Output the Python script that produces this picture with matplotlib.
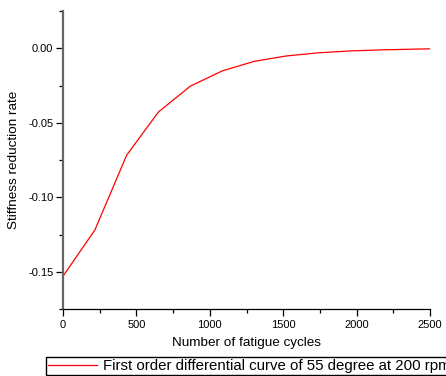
import matplotlib
matplotlib.use("Agg")
import matplotlib.pyplot as plt
from matplotlib.ticker import MultipleLocator

cycles = [0, 217, 434, 651, 868, 1085, 1302, 1519, 1736, 1953, 2170, 2387, 2500]
rate = [-0.153, -0.122, -0.0717, -0.0427, -0.0254, -0.0152, -0.0088,
        -0.0052, -0.0031, -0.0018, -0.0011, -0.0006, -0.0004]

plt.rcParams['font.family'] = ['Liberation Sans', 'DejaVu Sans']

fig = plt.figure(figsize=(4.46, 3.76), dpi=100)
ax = fig.add_axes([63/446, 67/376, 367/446, 298/376])

line, = ax.plot(cycles, rate, color='red', linewidth=0.9)

ax.set_xlim(0, 2500)
ax.set_ylim(-0.175, 0.025)
ax.xaxis.set_major_locator(MultipleLocator(500))
ax.xaxis.set_minor_locator(MultipleLocator(250))
ax.yaxis.set_major_locator(MultipleLocator(0.05))
ax.yaxis.set_minor_locator(MultipleLocator(0.025))
ax.yaxis.set_major_formatter(plt.FuncFormatter(lambda v, p: f"{v:.2f}"))

for s in ['top', 'right']:
    ax.spines[s].set_visible(False)
ax.spines['left'].set_color('#666666')
ax.spines['left'].set_linewidth(1.6)
ax.spines['bottom'].set_color('black')
ax.spines['bottom'].set_linewidth(0.9)

ax.tick_params(which='major', length=5, width=0.9, labelsize=8, direction='out', color='black')
ax.tick_params(which='minor', length=3, width=0.9, direction='out', color='black')
ax.tick_params(axis='x', pad=3)
ax.tick_params(axis='y', pad=2)

ax.set_xlabel('Number of fatigue cycles', fontsize=9.7, labelpad=5)
ax.set_ylabel('Stiffness reduction rate', fontsize=9.7, labelpad=6)

fig.legend([line], ['First order differential curve of 55 degree at 200 rpm'],
           loc='upper left', bbox_to_anchor=(46/446, 1 - 357/376),
           fontsize=10.8, frameon=True, fancybox=False, edgecolor='black',
           handlelength=3.3, borderaxespad=0, borderpad=0.12, handletextpad=0.35,
           framealpha=1)

fig.savefig('out.png', dpi=100)
